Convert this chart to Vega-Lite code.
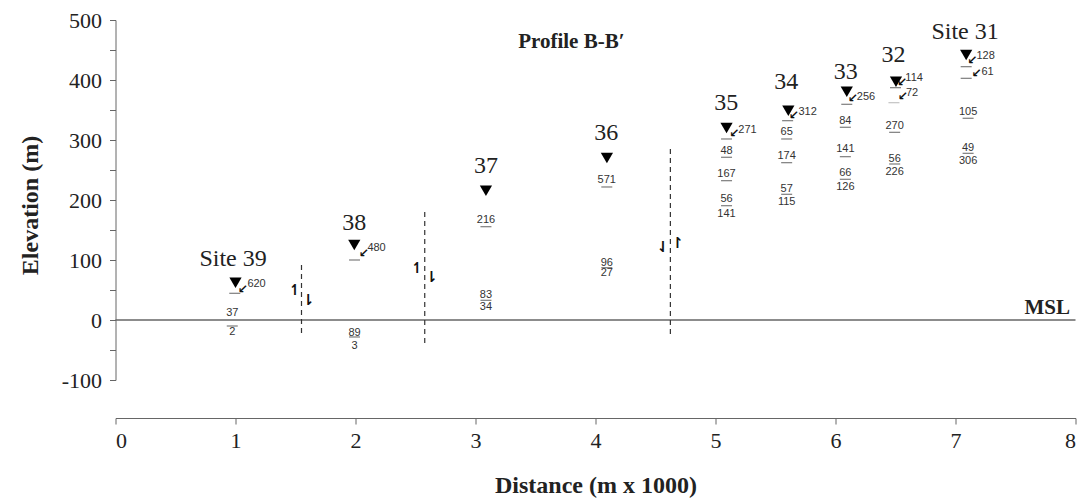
{
  "$schema": "https://vega.github.io/schema/vega-lite/v6.json",
  "width": 960,
  "height": 360,
  "autosize": {"type": "none"},
  "padding": {"left": 115.5, "top": 20, "right": 5.5, "bottom": 120},
  "background": "white",
  "config": {"view": {"stroke": null}},
  "datasets": {
    "msl": [{"elev": 0}],
    "faults": [
      {"dist": 1.55, "top": 91.7, "bottom": -25},
      {"dist": 2.577, "top": 180, "bottom": -41.7},
      {"dist": 4.624, "top": 285, "bottom": -25}
    ],
    "faultArrows": [
      {"dist": 1.497, "elev": 50, "sym": "↿"},
      {"dist": 1.607, "elev": 33.3, "sym": "⇂"},
      {"dist": 2.514, "elev": 86.7, "sym": "↿"},
      {"dist": 2.634, "elev": 71.7, "sym": "⇂"},
      {"dist": 4.563, "elev": 122, "sym": "⇃"},
      {"dist": 4.683, "elev": 128.8, "sym": "↾"}
    ],
    "sites": [
      {"dist": 0.98, "elev": 101.7, "name": "Site 39"},
      {"dist": 1.99, "elev": 161.7, "name": "38"},
      {"dist": 3.087, "elev": 256.7, "name": "37"},
      {"dist": 4.09, "elev": 311.7, "name": "36"},
      {"dist": 5.09, "elev": 361.7, "name": "35"},
      {"dist": 5.59, "elev": 396.7, "name": "34"},
      {"dist": 6.086, "elev": 413.8, "name": "33"},
      {"dist": 6.484, "elev": 441.7, "name": "32"},
      {"dist": 7.08, "elev": 480.5, "name": "Site 31"}
    ],
    "levels": [
      {"dist": 1.0, "elev": 62.2},
      {"dist": 1.99, "elev": 125},
      {"dist": 3.087, "elev": 215.5},
      {"dist": 4.095, "elev": 270},
      {"dist": 5.092, "elev": 320},
      {"dist": 5.607, "elev": 348.8},
      {"dist": 6.094, "elev": 380.5},
      {"dist": 6.504, "elev": 397},
      {"dist": 7.089, "elev": 441.7}
    ],
    "levelLabels": [
      {"dist": 1.099, "elev": 60, "val": "620", "adist": 1.061, "aelev": 52.5},
      {"dist": 2.099, "elev": 120, "val": "480", "adist": 2.07, "aelev": 112.5},
      {"dist": 5.19, "elev": 316.7, "val": "271", "adist": 5.156, "aelev": 312.2},
      {"dist": 5.691, "elev": 347.2, "val": "312", "adist": 5.652, "aelev": 341.7},
      {"dist": 6.178, "elev": 371.2, "val": "256", "adist": 6.145, "aelev": 370},
      {"dist": 6.582, "elev": 402.8, "val": "114", "adist": 6.554, "aelev": 396},
      {"dist": 6.587, "elev": 377.8, "val": "72", "adist": 6.56, "aelev": 374},
      {"dist": 7.175, "elev": 440, "val": "128", "adist": 7.139, "aelev": 432.8},
      {"dist": 7.216, "elev": 412.8, "val": "61", "adist": 7.175, "aelev": 412.2}
    ],
    "bars": [
      {"dist": 0.994, "elev": 44.5},
      {"dist": 1.992, "elev": 100},
      {"dist": 5.092, "elev": 301.7},
      {"dist": 5.601, "elev": 332.2},
      {"dist": 6.094, "elev": 359.5},
      {"dist": 6.5, "elev": 387.2},
      {"dist": 7.089, "elev": 422.2},
      {"dist": 7.089, "elev": 402.8},
      {"dist": 0.973, "elev": -10},
      {"dist": 1.992, "elev": -28.3},
      {"dist": 3.087, "elev": 155.5},
      {"dist": 3.087, "elev": 32.8},
      {"dist": 4.094, "elev": 221.7},
      {"dist": 4.094, "elev": 87.2},
      {"dist": 5.092, "elev": 271.2},
      {"dist": 5.092, "elev": 232.2},
      {"dist": 5.092, "elev": 190.5},
      {"dist": 5.593, "elev": 301.7},
      {"dist": 5.593, "elev": 262.2},
      {"dist": 5.593, "elev": 209.5},
      {"dist": 6.082, "elev": 321.2},
      {"dist": 6.082, "elev": 272.2},
      {"dist": 6.082, "elev": 234.5},
      {"dist": 6.493, "elev": 312.8},
      {"dist": 6.493, "elev": 260},
      {"dist": 7.105, "elev": 336.2},
      {"dist": 7.105, "elev": 277.8}
    ],
    "grayBars": [
      {"dist": 6.487, "elev": 362.2}
    ],
    "nums": [
      {"dist": 0.973, "elev": 12.2, "t": "37"},
      {"dist": 0.973, "elev": -20, "t": "2"},
      {"dist": 1.992, "elev": -21.7, "t": "89"},
      {"dist": 1.992, "elev": -43.3, "t": "3"},
      {"dist": 3.087, "elev": 166.7, "t": "216"},
      {"dist": 3.087, "elev": 41.7, "t": "83"},
      {"dist": 3.087, "elev": 21.7, "t": "34"},
      {"dist": 4.094, "elev": 233.3, "t": "571"},
      {"dist": 4.094, "elev": 95.5, "t": "96"},
      {"dist": 4.094, "elev": 77.8, "t": "27"},
      {"dist": 5.092, "elev": 282.2, "t": "48"},
      {"dist": 5.092, "elev": 243.3, "t": "167"},
      {"dist": 5.092, "elev": 201.2, "t": "56"},
      {"dist": 5.092, "elev": 176.2, "t": "141"},
      {"dist": 5.593, "elev": 312.8, "t": "65"},
      {"dist": 5.593, "elev": 273.3, "t": "174"},
      {"dist": 5.593, "elev": 218.3, "t": "57"},
      {"dist": 5.593, "elev": 196.2, "t": "115"},
      {"dist": 6.082, "elev": 332.2, "t": "84"},
      {"dist": 6.082, "elev": 284.5, "t": "141"},
      {"dist": 6.082, "elev": 245.8, "t": "66"},
      {"dist": 6.082, "elev": 221.2, "t": "126"},
      {"dist": 6.493, "elev": 323.3, "t": "270"},
      {"dist": 6.493, "elev": 268.3, "t": "56"},
      {"dist": 6.493, "elev": 247.2, "t": "226"},
      {"dist": 7.105, "elev": 347.2, "t": "105"},
      {"dist": 7.105, "elev": 286.2, "t": "49"},
      {"dist": 7.105, "elev": 265, "t": "306"}
    ],
    "notes": [
      {"dist": 3.799, "elev": 463.3, "t": "Profile B-B′"},
      {"dist": 7.764, "elev": 20, "t": "MSL"}
    ]
  },
  "encoding": {
    "x": {
      "field": "dist", "type": "quantitative",
      "scale": {"domain": [0, 8], "nice": false, "zero": false},
      "axis": {
        "title": "Distance (m x 1000)",
        "values": [0, 1, 2, 3, 4, 5, 6, 7, 8],
        "offset": 38,
        "grid": false,
        "domainColor": "#666",
        "tickColor": "#666",
        "tickSize": 6,
        "labelFont": "Liberation Serif",
        "labelFontSize": 22,
        "labelColor": "#222",
        "labelPadding": 6,
        "titleFont": "Liberation Serif",
        "titleFontSize": 24,
        "titleFontWeight": "bold",
        "titleColor": "#222",
        "titleY": 67,
        "titleBaseline": "middle"
      }
    },
    "y": {
      "field": "elev", "type": "quantitative",
      "scale": {"domain": [-100, 500], "nice": false, "zero": false},
      "axis": {
        "title": "Elevation (m)",
        "values": [-100, -50, 0, 50, 100, 150, 200, 250, 300, 350, 400, 450, 500],
        "labelExpr": "datum.value % 100 === 0 ? toString(datum.value) : ''",
        "grid": false,
        "domainColor": "#666",
        "tickColor": "#666",
        "tickSize": 6,
        "labelFont": "Liberation Serif",
        "labelFontSize": 22,
        "labelColor": "#222",
        "labelPadding": 8,
        "titleFont": "Liberation Serif",
        "titleFontSize": 24,
        "titleFontWeight": "bold",
        "titleColor": "#222",
        "titleX": -85.5,
        "titleY": 185,
        "titleAngle": -90,
        "titleBaseline": "middle",
        "titleAlign": "center"
      }
    }
  },
  "layer": [
    {
      "data": {"name": "msl"},
      "mark": {"type": "rule", "color": "#666", "strokeWidth": 1.5},
      "encoding": {"x": null}
    },
    {
      "data": {"name": "faults"},
      "mark": {"type": "rule", "color": "#333", "strokeWidth": 1.2, "strokeDash": [5, 4]},
      "encoding": {"y": {"field": "top", "type": "quantitative"}, "y2": {"field": "bottom"}}
    },
    {
      "data": {"name": "faultArrows"},
      "mark": {"type": "text", "font": "DejaVu Sans", "fontSize": 15, "fontWeight": "bold", "color": "#111", "baseline": "middle", "align": "center"},
      "encoding": {"text": {"field": "sym"}}
    },
    {
      "data": {"name": "bars"},
      "mark": {"type": "tick", "orient": "horizontal", "size": 11, "thickness": 1.2, "color": "#444"}
    },
    {
      "data": {"name": "grayBars"},
      "mark": {"type": "tick", "orient": "horizontal", "size": 11, "thickness": 1.2, "color": "#aaa"}
    },
    {
      "data": {"name": "levels"},
      "mark": {"type": "point", "shape": "triangle-down", "filled": true, "color": "#000", "size": 150, "opacity": 1}
    },
    {
      "data": {"name": "levelLabels"},
      "mark": {"type": "text", "font": "Liberation Sans", "fontSize": 11, "color": "#333", "align": "left", "baseline": "middle"},
      "encoding": {"text": {"field": "val"}}
    },
    {
      "data": {"name": "levelLabels"},
      "mark": {"type": "text", "font": "DejaVu Sans", "fontSize": 12, "fontWeight": "bold", "color": "#111", "align": "center", "baseline": "middle", "text": "↙"},
      "encoding": {
        "x": {"field": "adist", "type": "quantitative"},
        "y": {"field": "aelev", "type": "quantitative"}
      }
    },
    {
      "data": {"name": "nums"},
      "mark": {"type": "text", "font": "Liberation Sans", "fontSize": 11, "color": "#333", "align": "center", "baseline": "middle"},
      "encoding": {"text": {"field": "t"}}
    },
    {
      "data": {"name": "sites"},
      "mark": {"type": "text", "font": "Liberation Serif", "fontSize": 24, "color": "#222", "align": "center", "baseline": "middle"},
      "encoding": {"text": {"field": "name"}}
    },
    {
      "data": {"name": "notes"},
      "mark": {"type": "text", "font": "Liberation Serif", "fontSize": 21, "fontWeight": "bold", "color": "#222", "align": "center", "baseline": "middle"},
      "encoding": {"text": {"field": "t"}}
    }
  ]
}
